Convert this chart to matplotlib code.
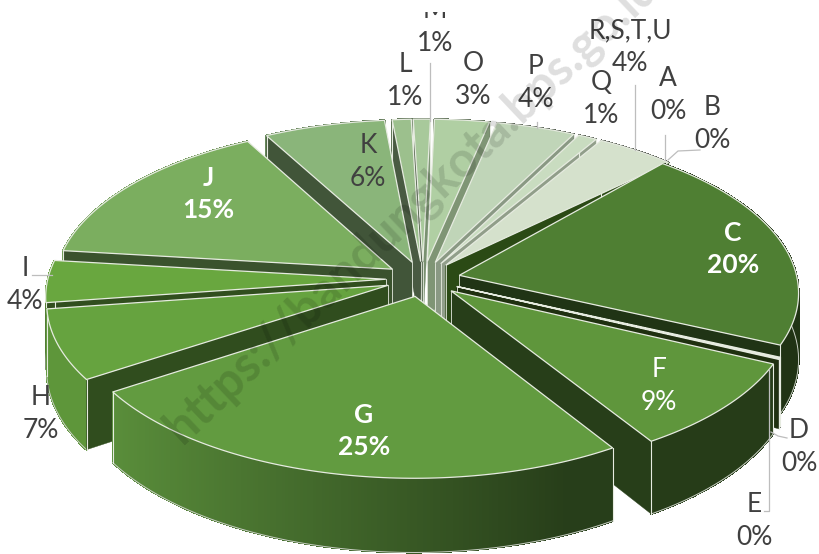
import numpy as np
import matplotlib
matplotlib.use("Agg")
import matplotlib.pyplot as plt
from matplotlib.patches import Polygon, Rectangle
from matplotlib.colors import to_rgb

categories = ["A", "B", "C", "D", "E", "F", "G", "H", "I", "J", "K", "L", "M", "O", "P", "Q", "R,S,T,U"]
values = [0.1, 0.1, 20.5, 0.1, 0.1, 9.0, 24.6, 7.0, 4.2, 15.2, 6.4, 1.0, 0.9, 2.9, 4.2, 1.0, 4.2]
pct_labels = ["0%", "0%", "20%", "0%", "0%", "9%", "25%", "7%", "4%", "15%", "6%", "1%", "1%", "3%", "4%", "1%", "4%"]
top_colors = ["#dfe8d8", "#dfe8d8", "#4f7f33", "#e6ecdf", "#e6ecdf", "#5f963c", "#629b40", "#66a33f",
              "#69a73f", "#7bae5f", "#8ab57a", "#9cc08d", "#a8c99b", "#b0cfa3", "#c0d5b8", "#c9dcc0", "#d5e1cc"]
label_pos = [(668, 95), (712, 124), (733, 249), (799, 447), (754, 521), (659, 386), (364, 431), (41, 414),
             (25, 285), (208, 194), (368, 162), (405, 81), (435, 27), (473, 80), (536, 83), (601, 99), (630, 47)]
label_style = ["d", "d", "w", "d", "d", "l", "w", "d", "d", "w", "d", "d", "d", "d", "d", "d", "d"]
dark_wall = {"A": "#2b4a15", "B": "#2b4a15", "D": "#1f3010", "E": "#1f3010", "R,S,T,U": "#2b4a15"}

START_DEG = 40.3
DEG_PER_PCT = 3.6
CX, CY, RX, RY, PERSP, EXPLODE, DEPTH = 423, 279, 338, 160, 0.10, 0.11, 66

def project(x, y, z=0.0):
    s = 1.0 / (1.0 + PERSP * y)
    return np.column_stack([CX + RX * x * s, CY - RY * y * s + z * DEPTH * s])

def scale(rgb, f):
    return tuple(min(1, c * f) for c in rgb)

def outer_shade(theta):
    return float(np.clip(0.40 + 0.52 * (0.4 - np.sin(theta)) / 1.25, 0.40, 0.92))

plt.rcParams["font.family"] = ["Lato", "DejaVu Sans"]
fig = plt.figure(figsize=(8.2, 5.54), dpi=100)
ax = fig.add_axes([0, 0, 1, 1])
ax.set_xlim(0, 820)
ax.set_ylim(554, 0)
ax.axis("off")

vals = np.array(values, dtype=float)
edges = np.radians(START_DEG) + np.radians(np.concatenate([[0], np.cumsum(vals)]) * DEG_PER_PCT)
EDGE = "#e6ebe0"

def sort_key(i):
    if categories[i] in ("A", "B"):
        return -2
    return -np.cos((edges[i] + edges[i + 1]) / 2)

order = sorted(range(len(vals)), key=sort_key)
z = 2
for i in order:
    t1, t2 = edges[i], edges[i + 1]
    mid = (t1 + t2) / 2
    ox, oy = EXPLODE * np.sin(mid), EXPLODE * np.cos(mid)
    rgb = to_rgb(top_colors[i])
    n = max(3, int(np.degrees(t2 - t1)) + 2)
    th = np.linspace(t1, t2, n)
    ax_pts = lambda tt, zz: project(ox + np.sin(tt), oy + np.cos(tt), zz)
    apex_t = project(np.array([ox]), np.array([oy]), 0)[0]
    apex_b = project(np.array([ox]), np.array([oy]), 1)[0]
    inner = project(np.array([ox + 0.5 * np.sin(mid)]), np.array([oy + 0.5 * np.cos(mid)]), 0)[0]
    # outer wall with gradient
    wt = np.linspace(t1, t2, max(2, int(np.degrees(t2 - t1) * 2) + 2))
    tp = ax_pts(wt, 0)
    bt = ax_pts(wt, 1)
    for k in range(len(wt) - 1):
        c = scale(rgb, outer_shade((wt[k] + wt[k + 1]) / 2))
        ax.add_patch(Polygon([tp[k], tp[k + 1], bt[k + 1], bt[k]], closed=True, fc=c, ec=c, lw=0.8,
                             antialiased=False, zorder=z))
    z += 1
    ax.plot(bt[:, 0], bt[:, 1], color="#c9cfc4", lw=0.7, zorder=z)
    z += 1
    # radial walls
    for which, t in enumerate((t1, t2)):
        ct = ax_pts(np.array([t]), 0)[0]
        cb = ax_pts(np.array([t]), 1)[0]
        d = ct - apex_t
        side_down = np.sign(d[0])
        side_in = np.sign(d[0] * (inner - apex_t)[1] - d[1] * (inner - apex_t)[0])
        if side_down != side_in:
            if categories[i] in dark_wall:
                col = dark_wall[categories[i]]
            elif which == 0:
                col = scale(rgb, 0.47)
            elif np.cos(t) > 0.6:
                col = scale(rgb, 0.72)
            else:
                col = scale(rgb, 0.41)
            ax.add_patch(Polygon([apex_t, ct, cb, apex_b], closed=True, fc=col, ec=col, lw=0.3, zorder=z))
            z += 1
    for idx in (0, -1):
        ax.plot([tp[idx, 0], bt[idx, 0]], [tp[idx, 1], bt[idx, 1]], color=EDGE, lw=0.8, zorder=z)
    ax.plot([apex_t[0], apex_b[0]], [apex_t[1], apex_b[1]], color=EDGE, lw=0.6, zorder=z)
    z += 1
    # top face
    arc = ax_pts(th, 0)
    ax.add_patch(Polygon(np.vstack([apex_t, arc]), closed=True, fc=rgb, ec=EDGE, lw=0.9, zorder=z))
    z += 1

# leader lines
leaders = [[(32, 275), (52, 275)], [(430, 63), (430, 121)], [(635, 85), (635, 150)], [(537, 122), (537, 128)],
           [(665, 135), (665, 160)], [(700, 150), (678, 151), (668, 160)], [(771, 432), (778, 436), (787, 438)],
           [(769, 370), (769, 511), (764, 511)]]
for seg in leaders:
    xs, ys = zip(*seg)
    ax.plot(xs, ys, color="#bdbdbd", lw=0.9, zorder=z)
z += 1

# labels
for name, pct, (lx, ly), st in zip(categories, pct_labels, label_pos, label_style):
    color = "#404040" if st == "d" else "white"
    weight = "bold" if st == "w" else "normal"
    t = ax.text(lx, ly, f"{name}\n{pct}", ha="center", va="center", fontsize=19, color=color,
                fontweight=weight, linespacing=1.4, zorder=z)
    if name == "M":
        t.set_clip_path(Rectangle((0, 12), 820, 542, transform=ax.transData))
        t.set_clip_on(True)
z += 1

# watermark
ax.text(172, 434, "https://bandungkota.bps.go.id", rotation=43.5, rotation_mode="anchor", ha="left", va="center",
        fontsize=35, fontweight="bold", color="black", alpha=0.13, zorder=z)

fig.savefig("out.png", dpi=100, facecolor="white")
